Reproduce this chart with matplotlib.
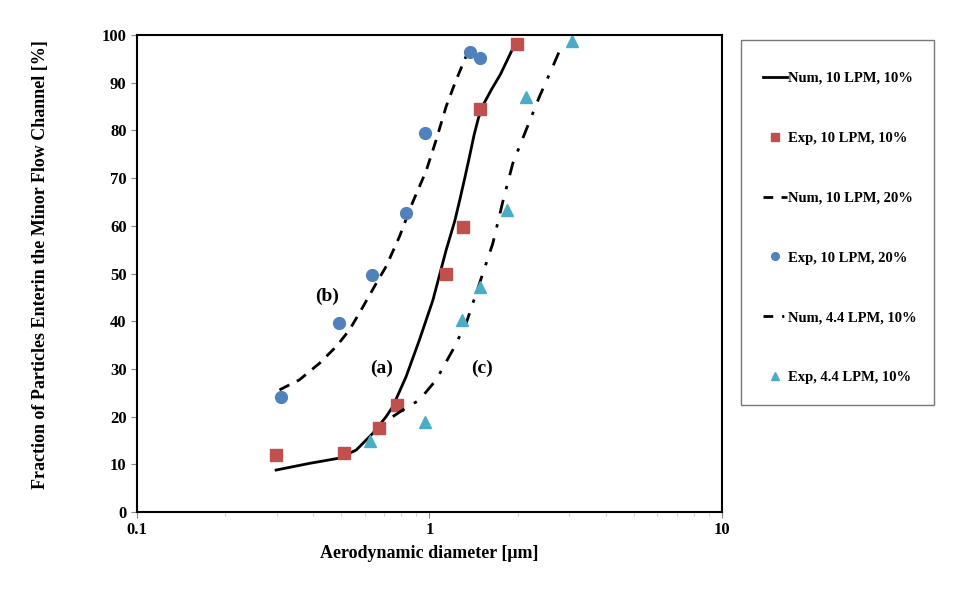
import matplotlib
matplotlib.use("Agg")
import matplotlib.pyplot as plt
from matplotlib.patches import Rectangle
from matplotlib.lines import Line2D

plt.rcParams['font.family'] = ['Liberation Serif', 'DejaVu Serif']
plt.rcParams['font.weight'] = 'bold'

# Numerical curves
num_a_x = [0.299, 0.389, 0.492, 0.562, 0.640, 0.711, 0.749, 0.832, 0.924, 1.027, 1.14,
           1.22, 1.27, 1.32, 1.37, 1.42, 1.47, 1.54, 1.63, 1.75, 1.952]
num_a_y = [8.8, 10.2, 11.3, 13.0, 16.5, 20.0, 22.1, 28.4, 36.1, 44.4, 54.9,
           61.0, 65.5, 70.0, 74.5, 79.0, 82.6, 85.8, 88.6, 91.8, 97.9]

num_b_x = [0.307, 0.359, 0.421, 0.480, 0.533, 0.592, 0.657, 0.711, 0.789, 0.877, 0.974,
           1.054, 1.14, 1.234, 1.40]
num_b_y = [25.6, 27.7, 31.2, 34.7, 38.2, 43.0, 47.9, 51.5, 57.7, 65.0, 71.5,
           78.0, 85.0, 90.6, 98.6]

num_c_x = [0.749, 0.811, 0.924, 1.054, 1.202, 1.335, 1.482, 1.646, 1.78, 1.927, 2.14,
           2.377, 2.64, 2.857]
num_c_y = [20.0, 21.4, 23.5, 27.7, 34.0, 39.6, 47.9, 56.3, 65.0, 73.1, 80.1,
           87.1, 93.4, 98.3]

# Experimental points
exp_a_x = [0.298, 0.512, 0.673, 0.775, 1.136, 1.298, 1.493, 1.995]
exp_a_y = [11.9, 12.4, 17.7, 22.5, 50.0, 59.8, 84.4, 98.1]

exp_b_x = [0.310, 0.492, 0.635, 0.829, 0.962, 1.377, 1.492]
exp_b_y = [24.1, 39.7, 49.6, 62.6, 79.4, 96.5, 95.2]

exp_c_x = [0.625, 0.964, 1.291, 1.483, 1.844, 2.134, 3.07]
exp_c_y = [14.9, 18.9, 40.2, 47.2, 63.3, 86.9, 98.8]

labels = ["Num, 10 LPM, 10%", "Exp, 10 LPM, 10%", "Num, 10 LPM, 20%",
          "Exp, 10 LPM, 20%", "Num, 4.4 LPM, 10%", "Exp, 4.4 LPM, 10%"]

RED, BLUE, TEAL = '#C0504D', '#4F81BD', '#4BACC6'
DASH = (0, (4, 3))
DASHDOT = (0, (5, 4, 1.2, 4))

fig = plt.figure(figsize=(9.54, 5.89), dpi=100)
ax = fig.add_axes([0.1436, 0.1307, 0.6132, 0.8099])

ax.plot(num_a_x, num_a_y, color='black', lw=2.0, linestyle='-')
ax.plot(exp_a_x, exp_a_y, linestyle='none', marker='s', ms=8.5, color=RED)
ax.plot(num_b_x, num_b_y, color='black', lw=2.0, linestyle=DASH)
ax.plot(exp_b_x, exp_b_y, linestyle='none', marker='o', ms=8.5, color=BLUE)
ax.plot(num_c_x, num_c_y, color='black', lw=2.0, linestyle=DASHDOT)
ax.plot(exp_c_x, exp_c_y, linestyle='none', marker='^', ms=8.5, color=TEAL)

ax.set_xscale('log')
ax.set_xlim(0.1, 10)
ax.set_ylim(0, 100)
ax.set_yticks(range(0, 101, 10))
ax.set_xticks([0.1, 1, 10])
ax.set_xticklabels(['0.1', '1', '10'])
ax.tick_params(axis='both', which='major', direction='out', length=4, width=0.8,
               labelsize=12, color='#888888')
ax.tick_params(axis='x', which='minor', direction='out', length=3, width=0.6, color='#cccccc')
for lab in ax.get_xticklabels() + ax.get_yticklabels():
    lab.set_fontweight('bold')
for s in ax.spines.values():
    s.set_linewidth(1.5)
    s.set_color('black')

ax.set_xlabel('Aerodynamic diameter [μm]', fontsize=13, fontweight='bold', labelpad=5)
ax.set_ylabel('Fraction of Particles Enterin the Minor Flow Channel [%]', fontsize=13,
              fontweight='bold')
ax.yaxis.set_label_coords(-0.15, 0.518)

ax.text(0.448, 45.3, '(b)', fontsize=14, fontweight='bold', ha='center', va='center')
ax.text(0.685, 30.2, '(a)', fontsize=14, fontweight='bold', ha='center', va='center')
ax.text(1.506, 30.2, '(c)', fontsize=14, fontweight='bold', ha='center', va='center')

# legend frame
fig.patches.append(Rectangle((741 / 954, 1 - 405 / 589), 193 / 954, 365 / 589,
                             transform=fig.transFigure, fill=False,
                             edgecolor='#777777', linewidth=1.0))

handles = [
    Line2D([], [], color='black', lw=2.0, linestyle='-'),
    Line2D([], [], linestyle='none', marker='s', ms=5.5, color=RED),
    Line2D([], [], color='black', lw=2.0, linestyle=(0, (3.5, 3))),
    Line2D([], [], linestyle='none', marker='o', ms=5.5, color=BLUE),
    Line2D([], [], color='black', lw=2.0, linestyle=(0, (3.5, 3.2, 0.8, 3))),
    Line2D([], [], linestyle='none', marker='^', ms=5.5, color=TEAL),
]
leg = fig.legend(handles, labels, loc='center',
                 bbox_to_anchor=(840 / 954, 1 - 228 / 589), labelspacing=3.2,
                 handlelength=1.65, handletextpad=0.1, borderpad=0, borderaxespad=0,
                 frameon=False, prop={'weight': 'bold', 'size': 10.5})

fig.savefig('out.png', dpi=100, facecolor='white')
